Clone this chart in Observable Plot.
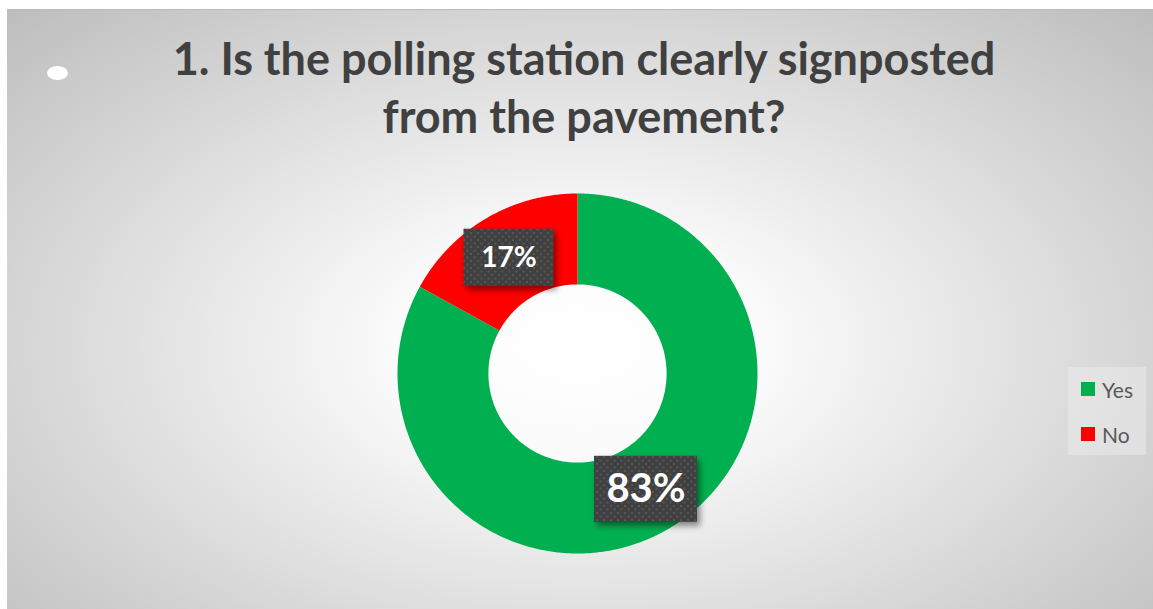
<!DOCTYPE html>
<html>
<head>
<meta charset="utf-8">
<script src="https://cdn.jsdelivr.net/npm/d3@7"></script>
<script src="https://cdn.jsdelivr.net/npm/@observablehq/plot@0.6"></script>
<style>
  html, body { margin: 0; padding: 0; background: #ffffff; }
  #page { position: relative; width: 1153px; height: 609px; overflow: hidden; font-family: Lato, "Open Sans", sans-serif; }
  #bg { position: absolute; left: 7px; top: 9px; width: 1146px; height: 600px;
        background: radial-gradient(ellipse farthest-corner at 50% 56%, #ffffff 0%, #fbfbfb 22%, #bdbdbd 100%);
        border-top: 1px solid #bbbbbb; box-sizing: border-box; }
  #dotmark { position: absolute; left: 47px; top: 66px; width: 21px; height: 14px; border-radius: 50%; background: #ffffff; }
  #title { position: absolute; left: 0; top: 29px; width: 1168px; text-align: center;
           font-weight: 700; font-size: 45px; line-height: 58px; color: #404040; }
  #chart { position: absolute; left: 0; top: 0; }
  #chart svg { background: transparent !important; }
  #legend { position: absolute; left: 1068px; top: 367px; width: 78px; height: 88px;
            background: rgba(235,235,235,0.55); }
  .li { position: absolute; left: 13px; height: 20px; display: flex; align-items: center; font-size: 21px; color: #595959; }
  .sw { width: 14px; height: 14px; margin-right: 7px; }
  g[aria-label="rect"] rect { filter: drop-shadow(3px 4px 3px rgba(0,0,0,0.45)); }
</style>
</head>
<body>
<svg width="0" height="0" style="position:absolute">
  <defs>
    <pattern id="dots" width="7" height="7" patternUnits="userSpaceOnUse">
      <rect width="7" height="7" fill="#404040"></rect>
      <rect x="1" y="1" width="2" height="2" fill="#575757"></rect>
      <rect x="4.5" y="4.5" width="2" height="2" fill="#575757"></rect>
    </pattern>
  </defs>
</svg>
<div id="page">
  <div id="bg"></div>
  <div id="dotmark"></div>
  <div id="title"></div>
  <div id="chart"></div>
  <div id="legend"></div>
</div>
<script>
// ---- data ----
const titleLines = ["1. Is the polling station clearly signposted", "from the pavement?"];
const categories = ["Yes", "No"];
const values = [83, 17];
const colors = ["#00B050", "#FF0000"];
const labels = ["83%", "17%"];

// ---- layout / style config ----
const W = 1153, H = 609;
const cx = 577, cy = 373, R = 180;   // donut centre and outer radius (px)
const innerRatio = 0.495;
const labelStyle = {
  "Yes": {w: 103, h: 66, fontSize: 40},
  "No":  {w: 90,  h: 57, fontSize: 28}
};

document.getElementById("title").innerHTML = titleLines.join("<br>");

// ---- pie geometry from data ----
const arcs = d3.pie().sort(null).value(d => d)(values);
const pts = [];
const labelRows = [];
arcs.forEach((a, i) => {
  const cat = categories[i];
  const n = Math.max(8, Math.ceil((a.endAngle - a.startAngle) / (Math.PI / 360)));
  const ring = [];
  for (let k = 0; k <= n; k++) {
    const t = a.startAngle + (a.endAngle - a.startAngle) * k / n;
    ring.push({cat, x: Math.sin(t), y: Math.cos(t)});
  }
  for (let k = n; k >= 0; k--) {
    const t = a.startAngle + (a.endAngle - a.startAngle) * k / n;
    ring.push({cat, x: innerRatio * Math.sin(t), y: innerRatio * Math.cos(t)});
  }
  ring.push(ring[0]);
  pts.push(...ring);
  const mid = (a.startAngle + a.endAngle) / 2;
  const rm = (1 + innerRatio) / 2;
  const s = labelStyle[cat];
  const lx = rm * Math.sin(mid), ly = rm * Math.cos(mid);
  labelRows.push({
    cat, label: labels[i], x: lx, y: ly,
    x1: lx - s.w / 2 / R, x2: lx + s.w / 2 / R,
    y1: ly - s.h / 2 / R, y2: ly + s.h / 2 / R,
    fontSize: s.fontSize
  });
});

const plot = Plot.plot({
  width: W, height: H,
  margin: 0, marginTop: 0, marginRight: 0, marginBottom: 0, marginLeft: 0,
  x: {domain: [(0 - cx) / R, (W - cx) / R], range: [0, W], axis: null},
  y: {domain: [(cy - H) / R, cy / R], range: [H, 0], axis: null},
  color: {domain: categories, range: colors},
  style: {background: "transparent"},
  marks: [
    Plot.line(pts, {x: "x", y: "y", z: "cat", fill: "cat", stroke: "none", curve: "linear"}),
    Plot.rect(labelRows, {x1: "x1", x2: "x2", y1: "y1", y2: "y2", fill: "url(#dots)"}),
    Plot.text(labelRows.filter(d => d.cat === "Yes"), {x: "x", y: "y", text: "label", fill: "white",
      fontSize: labelStyle.Yes.fontSize, fontWeight: 700, fontFamily: "Lato, sans-serif"}),
    Plot.text(labelRows.filter(d => d.cat === "No"), {x: "x", y: "y", text: "label", fill: "white",
      fontSize: labelStyle.No.fontSize, fontWeight: 700, fontFamily: "Lato, sans-serif"})
  ]
});
document.getElementById("chart").appendChild(plot);

// ---- legend ----
const legend = document.getElementById("legend");
categories.forEach((c, i) => {
  const item = document.createElement("div");
  item.className = "li";
  item.style.top = (12 + i * 45) + "px";
  item.innerHTML = `<span class="sw" style="background:${colors[i]}"></span><span>${c}</span>`;
  legend.appendChild(item);
});
</script>
</body>
</html>
